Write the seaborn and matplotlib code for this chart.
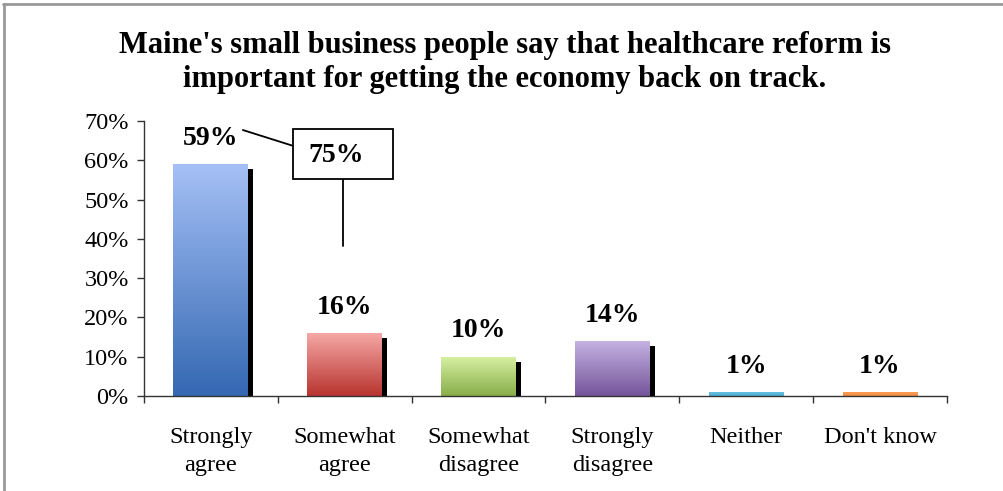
import numpy as np
import pandas as pd
import seaborn as sns
import matplotlib.pyplot as plt
from matplotlib import patheffects as pe
from matplotlib.colors import LinearSegmentedColormap
from matplotlib.patches import Rectangle
from matplotlib.lines import Line2D
from matplotlib.ticker import PercentFormatter, FixedLocator

# Survey answers and shares
categories = ["Strongly\nagree", "Somewhat\nagree", "Somewhat\ndisagree",
              "Strongly\ndisagree", "Neither", "Don't know"]
shares = [0.59, 0.16, 0.10, 0.14, 0.01, 0.01]
labels = ["59%", "16%", "10%", "14%", "1%", "1%"]
callout = "75%"

# gradient colours (top, bottom) for each bar
top_colors = ["#A5C0F6", "#F5A8A5", "#D8F1A4", "#C6B4E2", "#62BEE0", "#F99C55"]
bottom_colors = ["#3468B2", "#B8332F", "#88AD48", "#74549B", "#4FAFD6", "#F48E44"]

title = ("Maine's small business people say that healthcare reform is\n"
         "important for getting the economy back on track.")

df = pd.DataFrame({"answer": categories, "share": shares})

sns.set_style("ticks")
plt.rcParams["font.family"] = ["Liberation Serif", "DejaVu Serif"]
plt.rcParams["text.color"] = "black"
plt.rcParams["xtick.labelcolor"] = "black"
plt.rcParams["ytick.labelcolor"] = "black"

fig = plt.figure(figsize=(10.04, 4.91), dpi=100)
ax = fig.add_axes([0.1434, 0.1935, 0.7998, 0.5601])

sns.barplot(data=df, x="answer", y="share", hue="answer", palette=bottom_colors,
            legend=False, width=0.56, ax=ax, saturation=1)

# gradient fill + drop shadow on each bar
for bar, c_top, c_bot in zip(ax.patches, top_colors, bottom_colors):
    bar.set_edgecolor("none")
    bar.set_path_effects([pe.SimplePatchShadow(offset=(3.6, -3.6),
                                               shadow_rgbFace="black", alpha=1.0),
                          pe.Normal()])
    x0, w, h = bar.get_x(), bar.get_width(), bar.get_height()
    cmap = LinearSegmentedColormap.from_list("g", [c_bot, c_top])
    grad = np.linspace(0, 1, 256).reshape(-1, 1)
    im = ax.imshow(grad, cmap=cmap, origin="lower", aspect="auto",
                   extent=[x0, x0 + w, 0, h], zorder=bar.get_zorder() + 0.1)
    im.set_clip_path(bar)

for i, (v, t) in enumerate(zip(shares, labels)):
    ax.annotate(t, (i, v), xytext=(0, 14), textcoords="offset points",
                ha="center", va="baseline", fontsize=20, fontweight="bold")

# callout box with its leader lines
ax.add_patch(Rectangle((0.611, 0.552), 0.749, 0.128, facecolor="white",
                       edgecolor="black", lw=1.3, zorder=5, clip_on=False))
ax.text(0.934, 0.613, callout, ha="center", va="center", fontsize=20,
        fontweight="bold", zorder=6)
ax.add_line(Line2D([0.239, 0.611], [0.677, 0.637], color="black", lw=1.3))
ax.add_line(Line2D([0.989, 0.989], [0.552, 0.3825], color="black", lw=1.3))

ax.set_xlim(-0.5, 5.5)
ax.set_ylim(0, 0.7)
ax.set_yticks(np.arange(0, 0.71, 0.1))
ax.yaxis.set_major_formatter(PercentFormatter(1.0, decimals=0))
ax.xaxis.set_minor_locator(FixedLocator(np.arange(-0.5, 5.6, 1)))
ax.tick_params(axis="x", which="major", length=0, pad=22, labelsize=17.5)
ax.tick_params(axis="x", which="minor", length=5, width=1, color="#333333")
ax.tick_params(axis="y", length=5, width=1, pad=6, labelsize=17.5, color="#333333")
for lab in ax.get_xticklabels():
    lab.set_linespacing(1.45)
ax.set_xlabel("")
ax.set_ylabel("")
for s in ["top", "right"]:
    ax.spines[s].set_visible(False)
for s in ["left", "bottom"]:
    ax.spines[s].set_color("#333333")
    ax.spines[s].set_linewidth(1)

fig.suptitle(title, x=0.503, y=0.872, va="center", fontsize=22,
             fontweight="bold", linespacing=1.22)

# chart-area frame (top and left edges visible)
fig.add_artist(Line2D([0.003, 1], [0.991, 0.991], color="#999999", lw=2,
                      transform=fig.transFigure))
fig.add_artist(Line2D([0.0035, 0.0035], [0, 0.991], color="#999999", lw=2,
                      transform=fig.transFigure))

fig.savefig("out.png", dpi=100)
